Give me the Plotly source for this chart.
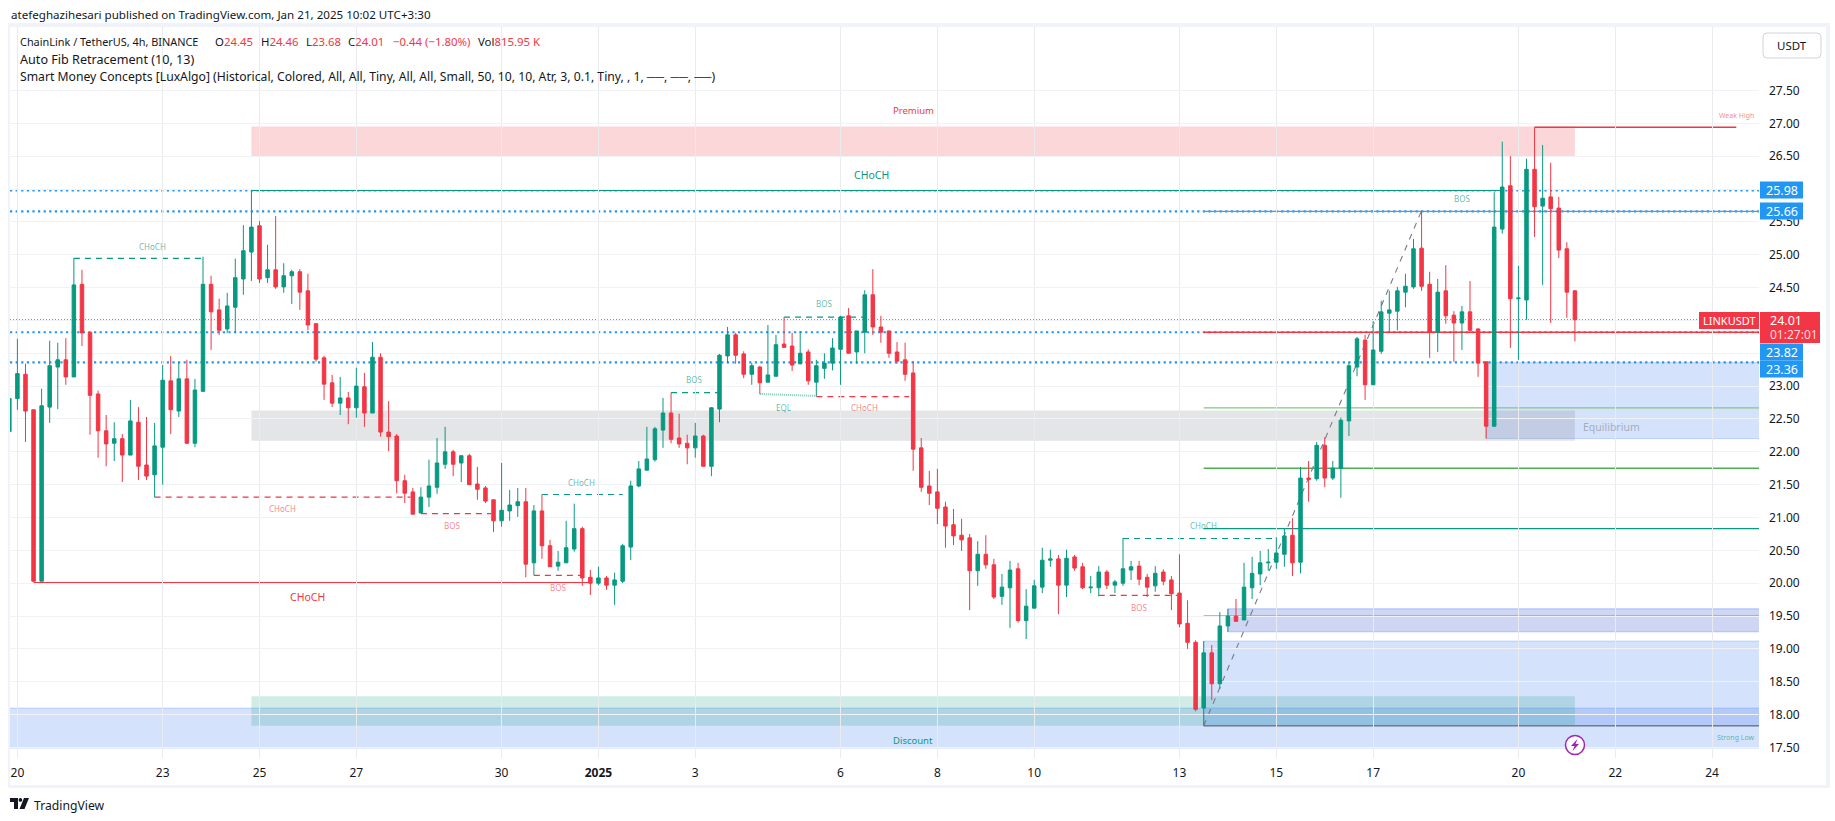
import plotly.graph_objects as go

# ---------- price data (bar index -1 .. 193, 4h bars) ----------
opens = [22.31,22.81,23.18,22.64,20.03,22.68,23.29,23.40,23.14,24.55,23.82,22.88,22.32,22.13,22.20,21.95,22.45,21.80,21.65,22.07,23.08,22.62,23.11,22.13,22.92,24.55,24.16,23.87,24.20,24.63,25.04,25.44,24.65,24.77,24.51,24.68,24.74,24.45,23.95,23.43,23.05,22.74,22.82,22.67,22.99,22.59,23.44,22.30,22.24,21.56,21.39,21.07,21.31,21.46,21.81,22.00,21.83,21.94,21.51,21.45,21.27,20.95,21.10,21.18,21.24,20.31,21.10,20.57,20.26,20.31,20.52,20.83,20.09,20.00,20.08,19.97,20.03,20.55,21.48,21.72,21.88,22.33,22.59,22.21,22.13,22.06,22.24,21.78,22.65,23.46,23.78,23.49,23.18,23.29,23.06,23.15,23.64,23.61,23.34,23.52,23.06,23.27,23.35,23.56,24.07,23.52,23.82,24.39,23.90,23.84,23.52,23.40,23.20,22.06,21.48,21.39,21.16,20.89,20.73,20.69,20.19,20.44,20.28,19.80,19.93,20.22,19.43,19.62,19.94,20.35,20.37,19.97,20.40,20.25,19.93,19.93,20.17,19.97,20.00,20.20,20.26,20.09,19.96,20.17,20.05,19.85,19.39,19.10,18.10,18.94,18.47,19.35,19.50,19.44,19.93,20.14,20.31,20.32,20.44,20.73,20.32,21.60,21.59,22.10,21.60,21.75,22.47,23.29,23.70,23.02,23.53,24.11,24.14,24.43,24.51,25.10,24.55,23.82,24.45,24.08,23.96,24.13,23.87,23.37,22.39,25.39,26.05,24.33,24.31,26.30,25.74,25.88,25.71,25.09,24.45]
closes = [22.81,23.19,22.62,20.03,22.70,23.31,23.40,23.14,24.54,23.81,22.86,22.32,22.12,22.20,21.95,22.47,21.78,21.63,22.09,23.09,22.64,23.11,22.13,22.94,24.55,24.13,23.85,24.22,24.65,25.06,25.42,24.63,24.77,24.51,24.68,24.74,24.43,23.93,23.41,23.03,22.74,22.82,22.67,23.00,22.59,23.44,22.30,22.23,21.56,21.37,21.05,21.31,21.48,21.83,22.00,21.81,21.94,21.50,21.43,21.25,20.95,21.11,21.19,21.24,20.29,21.10,20.57,20.25,20.32,20.54,20.83,20.08,20.00,20.08,19.97,20.05,20.57,21.48,21.74,21.89,22.35,22.59,22.19,22.12,22.06,22.24,21.78,22.67,23.47,23.78,23.47,23.18,23.31,23.05,23.17,23.63,23.59,23.32,23.50,23.08,23.31,23.35,23.58,24.05,23.50,23.84,24.39,23.90,23.82,23.50,23.38,23.18,22.04,21.46,21.37,21.14,20.87,20.72,20.66,20.19,20.44,20.28,19.79,19.94,20.20,19.43,19.65,19.96,20.35,20.37,19.97,20.38,20.23,19.93,19.94,20.17,19.97,20.02,20.22,20.25,20.06,19.94,20.15,20.03,19.84,19.38,19.10,18.08,18.94,18.47,19.35,19.50,19.42,19.94,20.15,20.31,20.32,20.46,20.72,20.31,21.60,21.58,22.10,21.60,21.75,22.48,23.31,23.72,23.02,23.55,24.13,24.16,24.45,24.52,25.09,24.52,23.82,24.43,24.07,23.96,24.13,23.85,23.35,22.39,25.42,26.03,24.33,24.34,26.30,25.73,25.86,25.70,25.07,24.43,24.01]
highs = [22.81,23.72,23.34,22.64,22.96,23.69,23.66,23.73,24.95,24.77,23.82,22.93,22.56,22.45,22.27,22.79,22.68,22.53,22.44,23.32,23.46,23.37,23.40,23.11,24.97,24.68,24.33,24.42,24.94,25.45,25.98,25.51,25.15,25.59,24.87,24.77,24.78,24.71,23.95,23.46,23.17,23.14,22.91,23.28,23.20,23.67,23.50,22.77,22.27,21.65,21.45,21.46,21.88,22.21,22.38,22.03,21.95,21.97,21.77,21.48,21.27,21.83,21.42,21.45,21.45,21.19,21.35,20.66,20.49,20.95,21.21,20.86,20.20,20.25,20.11,20.16,20.60,21.56,21.86,22.38,22.38,22.82,22.90,22.58,22.26,22.44,22.26,22.68,23.49,23.90,23.81,23.53,23.35,23.31,23.93,23.78,24.05,23.81,23.84,23.56,23.40,23.50,23.73,24.07,24.19,23.84,24.46,24.78,24.07,23.84,23.67,23.66,23.38,22.21,21.71,21.74,21.24,21.13,20.98,20.75,20.64,20.73,20.37,20.14,20.34,20.31,19.91,20.05,20.54,20.51,20.43,20.51,20.43,20.31,20.11,20.26,20.20,20.05,20.69,20.34,20.34,20.14,20.26,20.21,20.11,20.44,19.74,19.13,19.12,19.06,19.56,19.61,19.76,20.31,20.40,20.49,20.52,20.70,20.84,20.99,21.77,21.86,22.15,22.22,21.86,22.52,23.37,23.75,23.78,23.99,24.30,24.45,24.51,24.71,25.24,25.67,24.74,24.63,24.84,24.14,24.22,24.60,23.88,23.37,25.95,26.72,26.50,24.83,26.46,26.94,26.67,26.40,25.88,25.19,24.46]
lows = [22.31,22.64,22.15,20.02,20.03,22.44,22.65,23.02,23.14,23.61,22.26,21.91,21.78,21.86,21.54,21.95,21.57,21.57,21.31,21.50,22.27,22.53,22.12,22.07,22.92,23.55,23.78,23.81,23.81,24.39,24.60,24.57,24.57,24.48,24.42,24.25,24.16,23.85,23.37,22.79,22.68,22.56,22.42,22.52,22.38,22.59,22.23,22.01,21.37,21.22,21.05,21.07,21.16,21.36,21.74,21.63,21.54,21.50,21.27,21.22,20.78,20.86,20.95,21.01,20.09,20.12,20.37,20.25,20.19,20.31,20.48,19.96,19.82,19.97,19.90,19.67,20.00,20.35,21.46,21.72,21.85,22.06,22.13,22.06,21.81,21.91,21.78,21.63,22.45,23.35,23.34,23.12,23.02,22.88,23.06,23.15,23.58,23.23,23.33,23.02,22.85,23.11,23.24,23.02,23.50,23.34,23.50,23.78,23.66,23.43,23.34,23.08,21.71,21.39,21.19,20.90,20.54,20.58,20.49,19.59,19.96,20.22,19.76,19.67,19.32,19.40,19.15,19.62,19.85,20.25,19.53,19.79,20.19,19.91,19.85,19.80,19.91,19.85,19.96,20.05,19.97,19.79,19.87,19.97,19.59,19.33,19.00,18.05,17.83,18.22,18.39,19.26,19.42,19.44,19.76,19.97,20.19,20.22,20.25,20.11,20.15,21.24,21.56,21.46,21.57,21.30,22.24,23.15,22.79,23.02,23.49,23.82,23.85,24.20,24.48,24.45,23.43,23.52,23.95,23.37,23.55,23.82,23.14,22.20,22.38,25.32,23.58,23.40,24.01,25.27,24.54,23.96,24.95,24.04,23.68]
first_bar = -1
bars = list(range(first_bar, first_bar + len(opens)))

tick_bars = [0,18,30,42,60,72,84,102,114,126,144,156,168,186,198,210]
tick_names = ["20","23","25","27","30","<b>2025</b>","3","6","8","10","13","15","17","20","22","24"]
price_ticks = [17.5+0.5*i for i in range(21)]
covered_ticks = [26.0,24.0,23.5]   # sit fully behind the price tags in the reference

alert_levels = [25.98,25.66,23.82,23.36]
last_price = 24.01

# (bar0, bar1, price0, price1)
zones_smc = {"premium":(29,193,26.49,26.95),"equilibrium":(29,193,22.17,22.63),"discount":(29,193,17.83,18.28)}
zones_blue = [(-1,216,17.49,18.10),(147,216,17.83,19.12),(182,216,22.20,23.36)]
zone_dark = (150,216,19.26,19.61)

# (bar0, bar1, price)
dashed_green = [(7,22.9,24.945),(65,75,21.35),(81,86.8,22.90),(95,105,24.05),(137,155.8,20.68)]
dashed_red = [(17,48.7,21.31),(50,58.7,21.06),(64,70,20.12),(99,110.5,22.84),(134,143.7,19.815)]
solid_green = [(29,183.9,25.98)]
solid_red = [(2,71,20.01),(188,213,26.94)]

fib_levels = [(25.66,"#6a93bd",1.1),(23.82,"#f23645",1.3),(22.67,"#81c784",1.2),(21.75,"#4caf50",1.4),
              (20.83,"#089981",1.4),(19.50,"#64b5f6",1.4),(17.83,"#787b86",1.5)]
fib_start = 147

# (text, bar, price, size, colour)
T_G = "rgba(8,153,129,0.66)"; T_R = "rgba(242,54,69,0.62)"
chart_texts = [("CHoCH",16.8,25.12,8,T_G),("CHoCH",32.9,21.13,8,T_R),("BOS",53.9,20.88,8,T_R),
 ("CHoCH",35.9,19.79,10.5,"#f23645"),("CHoCH",69.9,21.53,8,T_G),("BOS",67,19.93,8,T_R),
 ("BOS",83.9,23.10,8,T_G),("EQL",94.9,22.68,8,T_G),("CHoCH",105,22.68,8,T_R),("BOS",99.9,24.25,8,T_G),
 ("BOS",139,19.63,8,T_R),("CHoCH",147,20.88,8,T_G),("BOS",179,25.85,8,T_G),
 ("CHoCH",105.8,26.22,10.5,"#089981"),("Premium",111,27.19,9.5,"#f23645"),("Discount",111,17.60,9.5,"#089981"),
 ("Equilibrium",197.5,22.38,10.5,"rgba(120,123,134,0.55)"),("Weak High",213,27.12,7,T_R),("Strong Low",213,17.65,7,T_G)]

# ---------- frame in page pixels ----------
W,H = 1835,821
L,R,T,B = 10,1759,27,758
FONT = "Noto Sans"
def px(x): return (x-L)/(R-L)
def py(y): return (B-y)/(B-T)
BAR_PX = 8.07
x_lo = (L-17.4)/BAR_PX
x_hi = (R-17.4)/BAR_PX
y_hi = 27+(123.3-T)/65.7
y_lo = 27-(B-123.3)/65.7

fig = go.Figure(go.Candlestick(
    x=bars, open=opens, high=highs, low=lows, close=closes,
    increasing=dict(line=dict(color="#089981",width=1),fillcolor="#089981"),
    decreasing=dict(line=dict(color="#f23645",width=1),fillcolor="#f23645"),
    whiskerwidth=0, showlegend=False, hoverinfo="skip"))

shapes=[]; ann=[]
def rect(x0,x1,y0,y1,fill,line=None,layer="below"):
    shapes.append(dict(type="rect",xref="x",yref="y",x0=x0,x1=x1,y0=y0,y1=y1,fillcolor=fill,
        line=dict(width=1 if line else 0,color=line or "rgba(0,0,0,0)"),layer=layer))
def seg(x0,x1,y0,y1,color,width=1,dash="solid"):
    shapes.append(dict(type="line",xref="x",yref="y",x0=x0,x1=x1,y0=y0,y1=y1,
        line=dict(color=color,width=width,dash=dash),layer="below"))
def prect(x0,y0,x1,y1,fill,line=None,layer="above"):
    shapes.append(dict(type="rect",xref="paper",yref="paper",x0=px(x0),x1=px(x1),y0=py(y0),y1=py(y1),
        fillcolor=fill,line=dict(width=1 if line else 0,color=line or "rgba(0,0,0,0)"),layer=layer))
def ptext(text,x,y,size,color,xa="left",font=FONT):
    ann.append(dict(text=text,xref="paper",yref="paper",x=px(x),y=py(y),xanchor=xa,yanchor="middle",
        showarrow=False,font=dict(size=size,color=color,family=font)))

for z in zones_blue:
    rect(z[0],z[1],z[2],z[3],"rgba(45,110,240,0.2)","rgba(45,110,240,0.22)")
rect(zone_dark[0],zone_dark[1],zone_dark[2],zone_dark[3],"rgba(30,70,200,0.22)","rgba(41,98,255,0.3)")
rect(*zones_smc["premium"],"rgba(242,54,69,0.2)")
rect(*zones_smc["equilibrium"],"rgba(120,123,134,0.2)")
rect(*zones_smc["discount"],"rgba(8,153,129,0.19)")

for lv in alert_levels:
    seg(x_lo,x_hi,lv,lv,"#2196f3",2.2,"2.2px,3.4px")
seg(x_lo,x_hi,last_price,last_price,"#f23645",1,"1px,2px")

for lv,c,w in fib_levels:
    seg(fib_start,x_hi,lv,lv,c,w)
seg(fib_start,174,17.83,25.67,"#787b86",1.1,"6px,6px")

for a,b,p in dashed_green: seg(a,b,p,p,"#089981",1.2,"6px,5px")
for a,b,p in dashed_red: seg(a,b,p,p,"#f23645",1.2,"6px,5px")
for a,b,p in solid_green: seg(a,b,p,p,"#089981",1.5)
for a,b,p in solid_red: seg(a,b,p,p,"#f23645",1.3)
seg(92,99,22.88,22.85,"rgba(8,153,129,0.55)",2,"1px,1px")

for t,b,p,s,c in chart_texts:
    ann.append(dict(text=t,xref="x",yref="y",x=b,y=p,showarrow=False,xanchor="center",yanchor="middle",
        font=dict(size=s,color=c,family=FONT)))

# page frame
for box in [(8,23,10,788),(8,23,1830,27),(1826,23,1830,788),(8,785,1830,788)]:
    prect(*box,"#f0f3fa")

# price tags
for lv,yc in [("25.98",190),("25.66",211),("23.82",352),("23.36",369)]:
    prect(1760,yc-8.5,1803,yc+8.5,"#2196f3")
    ptext(lv,1782,yc,12.5,"#ffffff","center")
prect(1699,312,1759,329,"#f23645")
ptext("LINKUSDT",1729,320.5,11,"#ffffff","center")
prect(1760,312,1820,343,"#f23645")
ptext("24.01",1768,320.5,12.5,"#ffffff")
ptext("01:27:01",1768,334.5,12,"#ffd9dc")

# USDT box
shapes.append(dict(type="path",xref="paper",yref="paper",layer="above",fillcolor="#ffffff",
    line=dict(color="#d1d4dc",width=1),
    path=f"M{px(1767)},{py(33)} L{px(1817)},{py(33)} Q{px(1821)},{py(33)} {px(1821)},{py(37)} L{px(1821)},{py(54)} Q{px(1821)},{py(58)} {px(1817)},{py(58)} L{px(1767)},{py(58)} Q{px(1763)},{py(58)} {px(1763)},{py(54)} L{px(1763)},{py(37)} Q{px(1763)},{py(33)} {px(1767)},{py(33)} Z"))
ptext("USDT",1792,45.5,11.5,"#131722","center")

# headings
RED="#f23645"
DARK="#131722"
ptext("atefeghazihesari published on TradingView.com, Jan 21, 2025 10:02 UTC+3:30",9,15,11.6,DARK)
ptext("ChainLink / TetherUS, 4h, BINANCE",18,41.5,10.9,DARK)
for lab,val,xp in [("O","24.45",213),("H","24.46",259),("L","23.68",303.5),("C","24.01",346)]:
    ptext(f"{lab}<span style='color:{RED}'>{val}</span>",xp,41.5,11.4,DARK)
ptext("−0.44 (−1.80%)",390.5,41.5,11.4,RED)
ptext(f"Vol<span style='color:{RED}'>815.95 K</span>",476,41.5,11.4,DARK)
ptext("Auto Fib Retracement (10, 13)",18,59,12.6,DARK)
ptext("Smart Money Concepts [LuxAlgo] (Historical, Colored, All, All, Tiny, All, All, Small, 50, 10, 10, Atr, 3, 0.1, Tiny, , 1, ──, ──, ──)",18,76,12.2,DARK)

# lightning badge
cx,cy,r=1575,745,9.5
shapes.append(dict(type="circle",xref="paper",yref="paper",x0=px(cx-r),x1=px(cx+r),y0=py(cy-r),y1=py(cy+r),
    fillcolor="#ffffff",line=dict(color="#9c27b0",width=1.5),layer="above"))
shapes.append(dict(type="path",xref="paper",yref="paper",layer="above",fillcolor="#9c27b0",line=dict(width=0),
    path=f"M{px(cx+2.5)},{py(cy-6)} L{px(cx-4)},{py(cy+1)} L{px(cx-0.5)},{py(cy+1)} L{px(cx-2.5)},{py(cy+6)} L{px(cx+4)},{py(cy-1)} L{px(cx+0.5)},{py(cy-1)} Z"))

# TradingView mark
shapes.append(dict(type="path",xref="paper",yref="paper",layer="above",fillcolor=DARK,line=dict(width=0),
    path=f"M{px(10)},{py(798)} L{px(18)},{py(798)} L{px(18)},{py(809)} L{px(14)},{py(809)} L{px(14)},{py(802)} L{px(10)},{py(802)} Z"))
shapes.append(dict(type="circle",xref="paper",yref="paper",layer="above",fillcolor=DARK,line=dict(width=0),
    x0=px(18.6),x1=px(22.2),y0=py(798),y1=py(801.8)))
shapes.append(dict(type="path",xref="paper",yref="paper",layer="above",fillcolor=DARK,line=dict(width=0),
    path=f"M{px(24)},{py(798)} L{px(29)},{py(798)} L{px(24.5)},{py(809)} L{px(19.5)},{py(809)} Z"))
ptext("TradingView",32,805,12.2,DARK)

fig.update_layout(
    width=W,height=H,autosize=False,
    margin=dict(l=L,r=W-R,t=T,b=H-B,pad=0),
    paper_bgcolor="#ffffff",plot_bgcolor="#ffffff",
    boxgap=0.38,
    shapes=shapes,annotations=ann,showlegend=False,
    font=dict(family=FONT,color=DARK,size=12),
    xaxis=dict(range=[x_lo,x_hi],rangeslider=dict(visible=False),tickmode="array",tickvals=tick_bars,
        ticktext=tick_names,showgrid=True,gridcolor="#e9ebef",gridwidth=1,zeroline=False,showline=False,
        ticks="",tickfont=dict(size=12,color=DARK,family=FONT),ticklabelstandoff=6),
    yaxis=dict(range=[y_lo,y_hi],side="right",tickmode="array",tickvals=price_ticks,
        ticktext=["" if v in covered_ticks else f"{v:.2f}" for v in price_ticks],
        showgrid=True,gridcolor="#f0f2f5",gridwidth=1,zeroline=False,
        showline=False,ticks="",tickfont=dict(size=12,color=DARK,family=FONT),ticklabelstandoff=9),
)
fig.write_html("out.html",config=dict(displayModeBar=False),
               post_script="document.body.style.margin='0';document.body.style.background='#fff';")
